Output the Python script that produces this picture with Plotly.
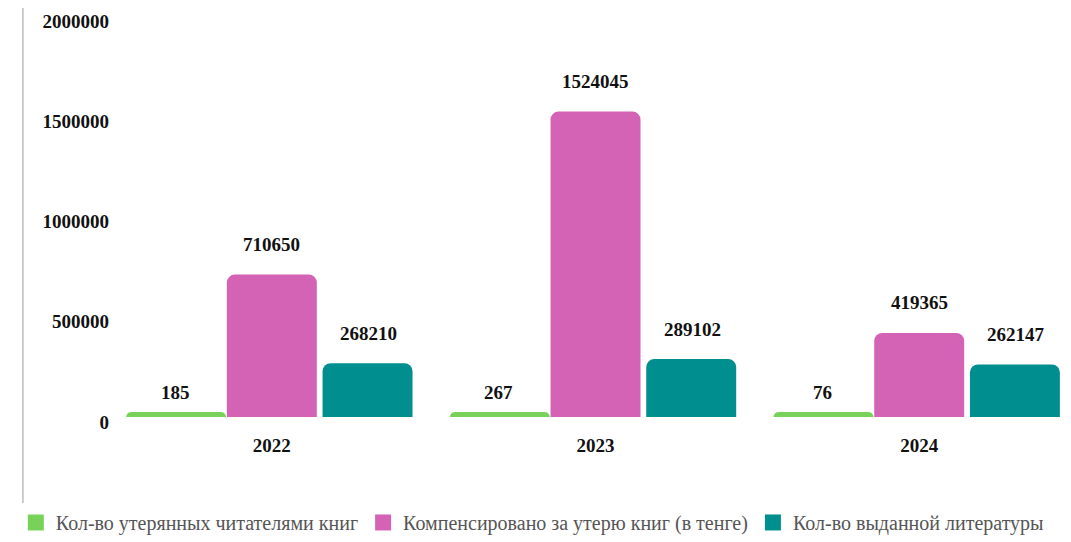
import plotly.graph_objects as go

years = ["2022", "2023", "2024"]
lost_books = [185, 267, 76]
compensated = [710650, 1524045, 419365]
issued = [268210, 289102, 262147]

series_names = [
    "Кол-во утерянных читателями книг",
    "Компенсировано за утерю книг (в тенге)",
    "Кол-во выданной литературы",
]
y_ticks = [0, 500000, 1000000, 1500000, 2000000]

colors = ["#78d25a", "#d463b6", "#008f8e"]
serif = "Liberation Serif"
bar_step = 96.7  # px between bars inside a group, for the value labels

fig = go.Figure()
for i, (name, vals, col) in enumerate(zip(series_names, [lost_books, compensated, issued], colors)):
    fig.add_trace(go.Bar(
        x=years, y=vals, name=name, showlegend=False,
        marker=dict(color=col, line=dict(color=col, width=10 if vals is lost_books else 0)),
    ))
    # value labels above bars (category index used as x position)
    for j, v in enumerate(vals):
        fig.add_annotation(x=j, y=v, text=str(v), showarrow=False,
                           xshift=(i - 1) * bar_step, yshift=30 if v > 1000 else 24,
                           font=dict(family=serif, size=19, color="#111111", weight="bold"))

# legend entries with square swatches
for name, col in zip(series_names, colors):
    fig.add_trace(go.Scatter(x=[None], y=[None], mode="markers", name=name,
                             marker=dict(symbol="square", size=22, color=col)))

fig.update_layout(
    width=1071, height=542,
    margin=dict(l=92, r=8, t=8, b=125),
    paper_bgcolor="white", plot_bgcolor="white",
    barmode="group", bargap=0.113, bargroupgap=0.06, barcornerradius=8,
    font=dict(family=serif, color="#111111"),
    xaxis=dict(type="category", range=[-0.5, 2.469], showgrid=False, showline=False,
               zeroline=False, automargin=False, ticklabelstandoff=15,
               tickfont=dict(family=serif, size=19, color="#111111", weight="bold")),
    yaxis=dict(range=[0, 2001000], tickvals=y_ticks, ticktext=[str(v) for v in y_ticks],
               showgrid=False, showline=False, zeroline=False, automargin=False,
               ticklabeloverflow="allow", ticklabelshift=5,
               tickfont=dict(family=serif, size=19, color="#111111", weight="bold")),
    legend=dict(orientation="h", x=-0.098, xanchor="left", y=-0.263, yanchor="middle",
                font=dict(family=serif, size=20, color="#555555"),
                itemsizing="trace", itemwidth=30, tracegroupgap=0),
)

# thin page border on the left
fig.add_shape(type="line", xref="paper", yref="paper",
              x0=-0.0906, x1=-0.0906, y0=1.03, y1=-0.32,
              line=dict(color="#9a9a9a", width=1))

fig.write_html("out.html")
